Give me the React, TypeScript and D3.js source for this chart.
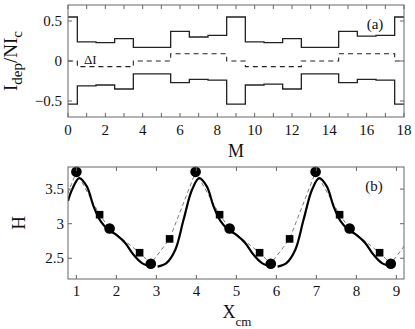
import React from 'react';
import * as d3 from 'd3';

// panel (a): depinning current per vortex row M
const mIndex = [0, 1, 2, 3, 4, 5, 6, 7, 8, 9, 10, 11, 12, 13, 14, 15, 16, 17, 18];
const upperI = [0.55, 0.24, 0.23, 0.28, 0.17, 0.17, 0.37, 0.30, 0.32, 0.55, 0.24, 0.23, 0.28, 0.17, 0.17, 0.37, 0.31, 0.32, 0.55];
const lowerI = [-0.54, -0.31, -0.30, -0.35, -0.16, -0.16, -0.27, -0.23, -0.24, -0.54, -0.30, -0.29, -0.35, -0.16, -0.16, -0.27, -0.23, -0.24, -0.54];
const deltaI = [0.0, -0.07, -0.07, -0.07, 0.0, 0.0, 0.09, 0.09, 0.09, 0.0, -0.07, -0.07, -0.07, 0.0, 0.0, 0.09, 0.09, 0.09, 0.0];
const aXTicks = [0, 2, 4, 6, 8, 10, 12, 14, 16, 18];
const aYTicks = [-0.5, 0, 0.5];

// panel (b): H vs X_cm
const circleX = [1.0, 1.83, 2.86, 3.98, 4.83, 5.86, 6.98, 7.83, 8.86];
const circleH = [3.75, 2.93, 2.42, 3.75, 2.93, 2.42, 3.75, 2.93, 2.42];
const squareX = [1.58, 2.58, 3.33, 4.58, 5.58, 6.33, 7.58, 8.58];
const squareH = [3.13, 2.58, 2.78, 3.13, 2.58, 2.78, 3.13, 2.58];
const dashX = [0.33, 1.0, 1.58, 1.83, 2.58, 2.86, 3.33, 3.98, 4.58, 4.83, 5.58, 5.86, 6.33, 6.98, 7.58, 7.83, 8.58, 8.86, 9.33];
const dashH = [2.78, 3.75, 3.13, 2.93, 2.58, 2.42, 2.78, 3.75, 3.13, 2.93, 2.58, 2.42, 2.78, 3.75, 3.13, 2.93, 2.58, 2.42, 2.78];
const curve1X = [0.79, 0.89, 1.07, 1.26, 1.43, 1.6, 1.8, 2.0, 2.22, 2.43, 2.64, 2.9];
const curve1H = [3.33, 3.49, 3.66, 3.54, 3.25, 3.04, 2.91, 2.84, 2.72, 2.55, 2.43, 2.38];
const curve2X = [3.03, 3.25, 3.47, 3.68, 3.89, 4.07, 4.26, 4.43, 4.6, 4.8, 5.0, 5.22, 5.43, 5.64, 5.9];
const curve2H = [2.38, 2.43, 2.62, 3.06, 3.49, 3.66, 3.54, 3.25, 3.04, 2.91, 2.84, 2.72, 2.55, 2.43, 2.38];
const curve3X = [6.03, 6.25, 6.47, 6.68, 6.89, 7.07, 7.26, 7.43, 7.6, 7.8, 8.0, 8.22, 8.43, 8.64, 8.92];
const curve3H = [2.38, 2.43, 2.62, 3.06, 3.49, 3.66, 3.54, 3.25, 3.04, 2.91, 2.84, 2.72, 2.55, 2.43, 2.38];
const bXTicks = [1, 2, 3, 4, 5, 6, 7, 8, 9];
const bYTicks = [2.5, 3, 3.5];

const W = 415;
const H = 329;
const font = "'Liberation Serif', 'Times New Roman', serif";
const frameColor = '#666';
const tickLen = 4;

const App = () => {
  const left = 68;
  const right = 404;

  const xA = d3.scaleLinear().domain([0, 18]).range([left, right]);
  const yA = d3.scaleLinear().domain([-0.7, 0.7]).range([117, 5]);
  const xB = d3.scaleLinear().domain([0.79, 9.19]).range([left, right]);
  const yB = d3.scaleLinear().domain([2.2, 3.82]).range([279, 167]);

  const stepPts = (vals: number[]) =>
    mIndex.flatMap((m, i) => [
      [Math.max(0, m - 0.5), vals[i]],
      [Math.min(18, m + 0.5), vals[i]],
    ]);
  const lineA = d3.line<number[]>().x(d => xA(d[0])).y(d => yA(d[1]));

  const lineB = d3.line<number[]>().x(d => xB(d[0])).y(d => yB(d[1]));
  const smoothB = d3.line<number[]>().x(d => xB(d[0])).y(d => yB(d[1])).curve(d3.curveCatmullRom.alpha(0.5));
  const zip = (xs: number[], ys: number[]) => xs.map((x, i) => [x, ys[i]]);
  const curves = [zip(curve1X, curve1H), zip(curve2X, curve2H), zip(curve3X, curve3H)];

  const frame = (xs: any, ys: any, xTicks: number[], yTicks: number[]) => {
    const [x0, x1] = xs.range();
    const [y0, y1] = ys.range();
    return (
      <g stroke={frameColor} strokeWidth={1} fill="none">
        <rect x={x0} y={y1} width={x1 - x0} height={y0 - y1} />
        {xTicks.map(t => (
          <g key={'x' + t}>
            <line x1={xs(t)} x2={xs(t)} y1={y0} y2={y0 - tickLen} />
            <line x1={xs(t)} x2={xs(t)} y1={y1} y2={y1 + tickLen} />
          </g>
        ))}
        {yTicks.map(t => (
          <g key={'y' + t}>
            <line x1={x0} x2={x0 + tickLen} y1={ys(t)} y2={ys(t)} />
            <line x1={x1} x2={x1 - tickLen} y1={ys(t)} y2={ys(t)} />
          </g>
        ))}
      </g>
    );
  };

  return (
    <div style={{ position: 'absolute', left: 0, top: 0 }}>
      <svg width={W} height={H} style={{ display: 'block', background: '#fff', fontFamily: font }}>
        <defs>
          <clipPath id="clipB">
            <rect x={left} y={167} width={right - left} height={112} />
          </clipPath>
        </defs>

        {/* panel (a) */}
        <path d={lineA(stepPts(upperI)) || ''} fill="none" stroke="#222" strokeWidth={1.3} />
        <path d={lineA(stepPts(lowerI)) || ''} fill="none" stroke="#222" strokeWidth={1.3} />
        <path d={lineA(stepPts(deltaI)) || ''} fill="none" stroke="#222" strokeWidth={1.1} strokeDasharray="5,4" />
        {frame(xA, yA, xA.ticks(18), aYTicks)}
        {aXTicks.map(t => (
          <text key={t} x={xA(t)} y={135} fontSize={15} textAnchor="middle" fill="#111">{t}</text>
        ))}
        {aYTicks.map(t => (
          <text key={t} x={62} y={yA(t) + 5} fontSize={15} textAnchor="end" fill="#111">
            {t < 0 ? '\u2212' + Math.abs(t) : t}
          </text>
        ))}
        <text x={84} y={64} fontSize={13} fill="#111">ΔI</text>
        <text x={375} y={29} fontSize={15} textAnchor="middle" fill="#111">(a)</text>
        <text x={236} y={157} fontSize={18} textAnchor="middle" fill="#111">M</text>
        <text transform={`translate(17,${(5 + 117) / 2}) rotate(-90)`} fontSize={19} textAnchor="middle" fill="#111">
          I<tspan fontSize={15} dy={5}>dep</tspan>
          <tspan dy={-5}>/NI</tspan>
          <tspan fontSize={15} dy={5}>c</tspan>
        </text>

        {/* panel (b) */}
        <g clipPath="url(#clipB)">
          <path d={lineB(zip(dashX, dashH)) || ''} fill="none" stroke="#555" strokeWidth={0.8} strokeDasharray="4,3" />
          {curves.map((c, i) => (
            <path key={i} d={smoothB(c) || ''} fill="none" stroke="#000" strokeWidth={2.2} />
          ))}
        </g>
        {squareX.map((x, i) => (
          <rect key={'s' + i} x={xB(x) - 3.8} y={yB(squareH[i]) - 3.8} width={7.6} height={7.6} fill="#000" />
        ))}
        {circleX.map((x, i) => (
          <circle key={'c' + i} cx={xB(x)} cy={yB(circleH[i])} r={5.3} fill="#000" />
        ))}
        {frame(xB, yB, bXTicks, bYTicks)}
        {bXTicks.map(t => (
          <text key={t} x={xB(t)} y={296} fontSize={15} textAnchor="middle" fill="#111">{t}</text>
        ))}
        {bYTicks.map(t => (
          <text key={t} x={64} y={yB(t) + 5} fontSize={15} textAnchor="end" fill="#111">{t}</text>
        ))}
        <text x={374} y={191} fontSize={15} textAnchor="middle" fill="#111">(b)</text>
        <text x={237} y={318} fontSize={18} textAnchor="middle" fill="#111">
          X<tspan fontSize={13} dy={8}>cm</tspan>
        </text>
        <text transform={`translate(25,223) rotate(-90)`} fontSize={19} textAnchor="middle" fill="#111">H</text>
      </svg>
    </div>
  );
};

export default App;
